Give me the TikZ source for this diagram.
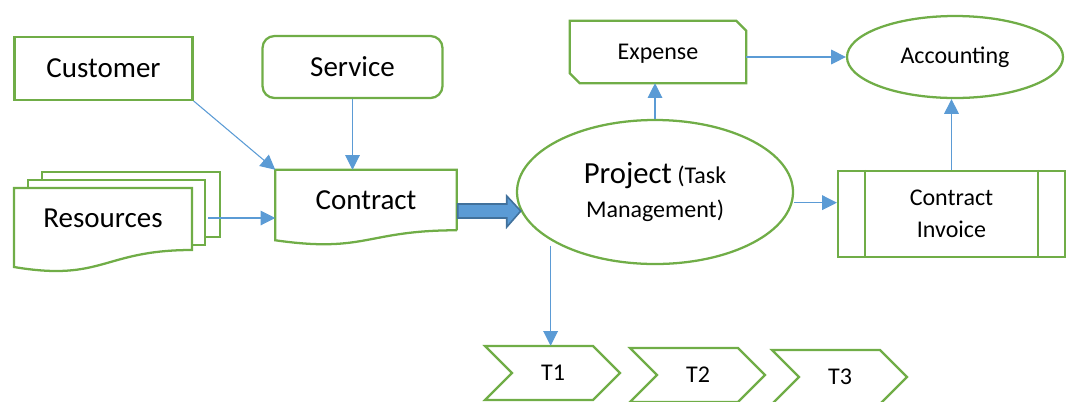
\documentclass[tikz,border=0pt]{standalone}
\usepackage{fontspec}
\setmainfont{Carlito}
\usetikzlibrary{shapes.geometric,arrows.meta,calc}
\definecolor{shapegreen}{HTML}{70AD47}
\definecolor{linkblue}{HTML}{5B9BD5}
\definecolor{darkblue}{HTML}{41719C}
\begin{document}
\begin{tikzpicture}[x=0.75pt,y=-0.75pt,
    outline/.style={draw=shapegreen, line width=1.7pt},
    link/.style={draw=linkblue, line width=0.8pt, -{Triangle[length=11pt,width=11pt]}},
    bigtext/.style={font=\fontsize{21.75}{26}\selectfont},
    smalltext/.style={font=\fontsize{18}{24}\selectfont}]
  \useasboundingbox (0,0) rectangle (1066,401);
  % inputs
  \node[outline, bigtext, minimum width=133.5pt, minimum height=47pt] (customer) at (103.5,68.5) {Customer};
  \node[outline, bigtext, rounded corners=9pt, minimum width=135pt, minimum height=46.5pt] (service) at (352.5,67) {Service};
  \draw[outline, fill=white] (42,172) rectangle (220,237);
  \draw[outline, fill=white] (28,180) rectangle (205,245);
  \draw[outline, fill=white] (14,188) -- (192,188) -- (192,250) .. controls (103,250) and (103,282) .. (14,267) -- cycle;
  \node[bigtext, minimum width=133.5pt] (resources) at (103,218) {Resources};
  % contract
  \node[bigtext, minimum width=135.75pt, minimum height=45pt] (contract) at (366,200) {Contract};
  \draw[outline] (contract.south east) -- (contract.north east) -- (contract.north west) -- ($(contract.south west)+(0,10)$)
    .. controls ($(contract.south)+(0,23)$) and (contract.south) .. (contract.south east);
  % project and outputs
  \node[outline, ellipse, minimum width=207pt, minimum height=108pt, align=center, font=\fontsize{18}{26}\selectfont] (project) at (655,192)
    {{\fontsize{23}{26}\selectfont Project} (Task\\Management)};
  \node[smalltext, text depth=0pt, minimum width=132pt, minimum height=46.5pt] (expense) at (658,52) {Expense};
  \draw[outline] (expense.north west) -- ($(expense.north east)+(-10,0)$) -- ($(expense.north east)+(0,10)$)
    -- (expense.south east) -- ($(expense.south west)+(10,0)$) -- ($(expense.south west)+(0,-10)$) -- cycle;
  \node[outline, ellipse, smalltext, minimum width=162pt, minimum height=61.5pt] (accounting) at (955,57) {Accounting};
  \node[outline, smalltext, align=center, minimum width=170.25pt, minimum height=64.5pt] (invoice) at (951.5,214) {Contract\\Invoice};
  \draw[outline] ($(invoice.north west)+(28,0)$) -- ($(invoice.south west)+(28,0)$);
  \draw[outline] ($(invoice.north east)+(-28,0)$) -- ($(invoice.south east)+(-28,0)$);
  % tasks
  \foreach \n/\x/\y in {1/485/346, 2/630/348, 3/772/350} {
    \draw[outline] (\x,\y) -- ++(108,0) -- ++(27,27) -- ++(-27,27) -- ++(-108,0) -- ++(27,-27) -- cycle;
    \node[smalltext, minimum height=40.5pt] (t\n) at (\x+68,\y+27) {T\n};
  }
  % connectors
  \coordinate (taskstart) at ($(project.south west)+(-6,2)$);
  \draw[link] (customer.south east) -- (contract.north west);
  \draw[link] (service.south) -- (service.south |- contract.north);
  \draw[link] ([xshift=12pt]resources.east) -- (resources.east -| contract.west);
  \draw[fill=linkblue, draw=darkblue, line width=1.2pt, line join=miter] ($(contract.east)+(1,4)$) -- ++(49,0) -- ++(0,-8)
    -- ++(14,15) -- ++(-14,16) -- ++(0,-9) -- ++(-49,0) -- cycle;
  \draw[link] (project.north) -- (project.north |- expense.south);
  \draw[link] (accounting.west -| expense.east) -- (accounting.west);
  \draw[link] (invoice.north) -- (invoice.north |- accounting.south);
  \draw[link] ([yshift=-8pt]project.east) -- ([yshift=-8pt]project.east -| invoice.west);
  \draw[link] (taskstart) -- (taskstart |- t1.north);
\end{tikzpicture}
\end{document}
